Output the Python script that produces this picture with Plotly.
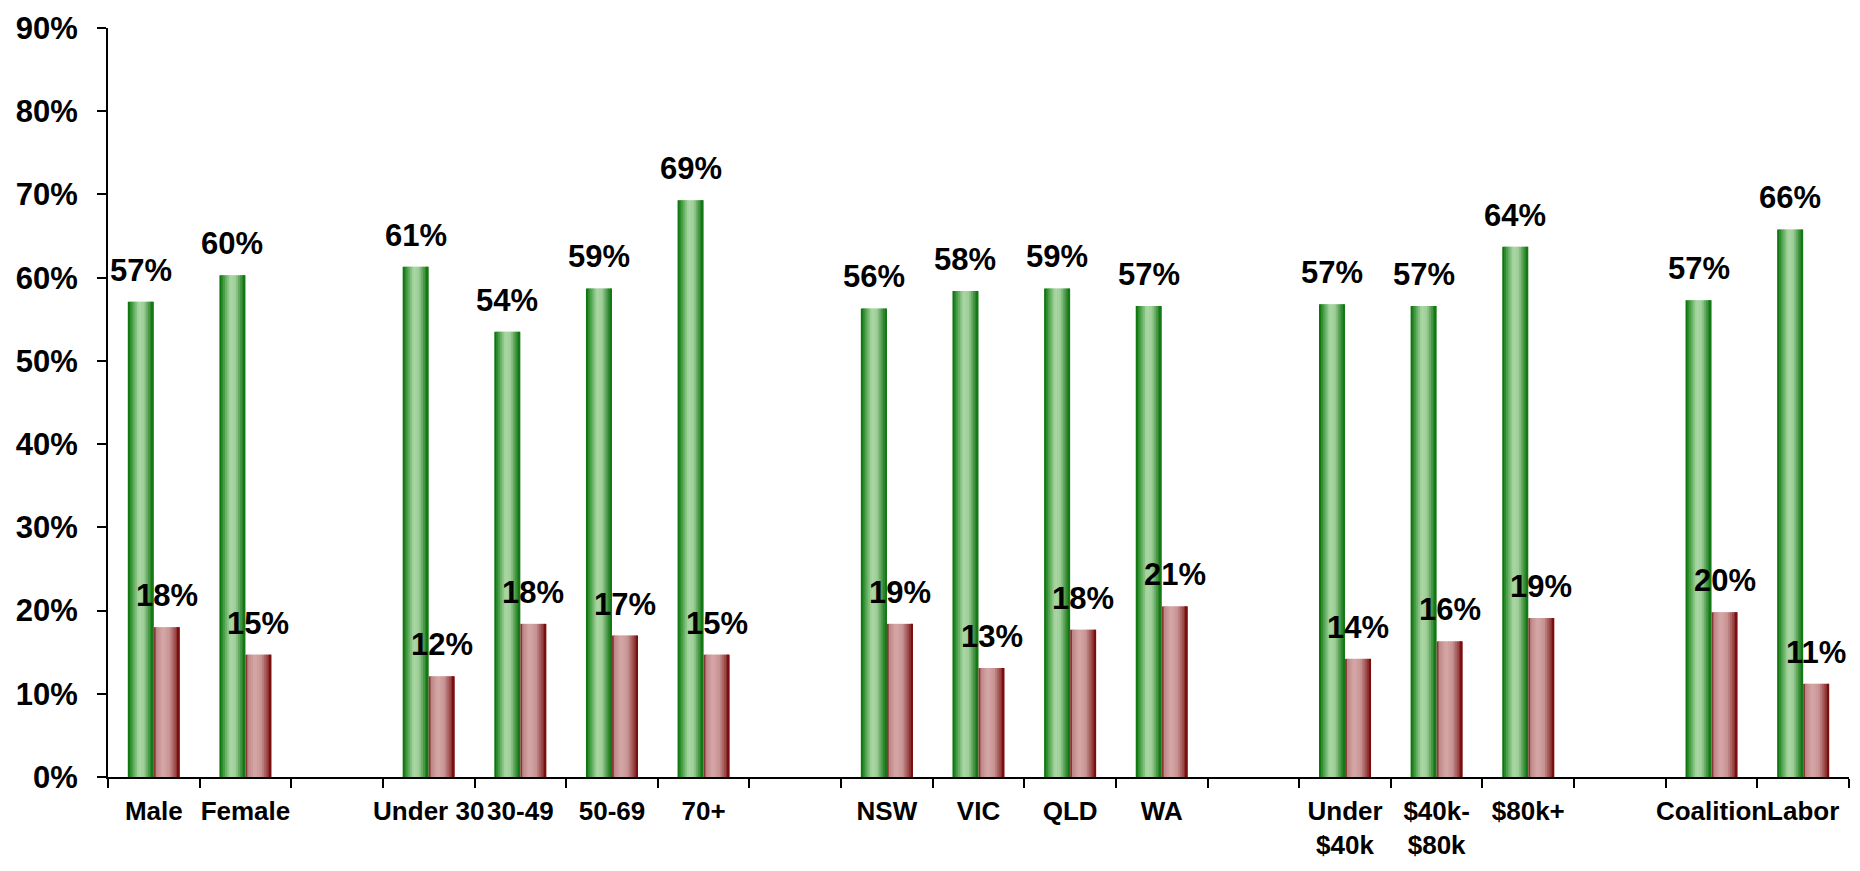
import plotly.graph_objects as go

categories = ["Male", "Female", " ",
              "Under 30", "30-49", "50-69", "70+", "  ",
              "NSW", "VIC", "QLD", "WA", "   ",
              "Under<br>$40k", "$40k-<br>$80k", "$80k+", "    ",
              "Coalition", "Labor"]

green_values = [57.1, 60.3, None,
                61.3, 53.5, 58.7, 69.3, None,
                56.3, 58.4, 58.7, 56.6, None,
                56.8, 56.6, 63.7, None,
                57.3, 65.8]
green_labels = ["57%", "60%", None,
                "61%", "54%", "59%", "69%", None,
                "56%", "58%", "59%", "57%", None,
                "57%", "57%", "64%", None,
                "57%", "66%"]

red_values = [18.0, 14.7, None,
              12.1, 18.4, 17.0, 14.7, None,
              18.4, 13.1, 17.7, 20.5, None,
              14.2, 16.3, 19.1, None,
              19.8, 11.2]
red_labels = ["18%", "15%", None,
              "12%", "18%", "17%", "15%", None,
              "19%", "13%", "18%", "21%", None,
              "14%", "16%", "19%", None,
              "20%", "11%"]

y_ticks = [0, 10, 20, 30, 40, 50, 60, 70, 80, 90]
y_tick_labels = ["0%", "10%", "20%", "30%", "40%", "50%", "60%", "70%", "80%", "90%"]

FONT = "Liberation Sans, Arial, sans-serif"
BAR_W = 0.284
N_STRIPS = 14

green_stops = [(0.0, (0, 105, 0)), (0.12, (50, 145, 50)), (0.42, (172, 216, 166)),
               (0.62, (158, 206, 152)), (0.88, (45, 135, 45)), (1.0, (10, 115, 10))]
red_stops = [(0.0, (105, 10, 10)), (0.1, (190, 135, 135)), (0.35, (215, 168, 168)),
             (0.6, (200, 148, 148)), (0.85, (150, 65, 65)), (1.0, (115, 0, 0))]


def interp(stops, t):
    for (t0, c0), (t1, c1) in zip(stops[:-1], stops[1:]):
        if t0 <= t <= t1:
            f = (t - t0) / (t1 - t0) if t1 > t0 else 0
            c = [round(a + (b - a) * f) for a, b in zip(c0, c1)]
            return "rgb(%d,%d,%d)" % tuple(c)
    return "rgb(%d,%d,%d)" % stops[-1][1]


fig = go.Figure()
step = BAR_W / N_STRIPS


def add_gradient_bar(values, start, stops):
    for k in range(N_STRIPS):
        t = (k + 0.5) / N_STRIPS
        w = step * 1.6 if k < N_STRIPS - 1 else step
        fig.add_trace(go.Bar(
            x=categories, y=values,
            offset=start + k * step, width=w,
            marker=dict(color=interp(stops, t), line=dict(width=0)),
            hoverinfo="skip", showlegend=False,
        ))


add_gradient_bar(green_values, -BAR_W, green_stops)
add_gradient_bar(red_values, 0.0, red_stops)

label_font = dict(family=FONT, size=31, color="black", weight="bold")
annotations = []
for i, (gv, gl, rv, rl) in enumerate(zip(green_values, green_labels, red_values, red_labels)):
    if gv is not None:
        annotations.append(dict(x=i - BAR_W / 2, y=gv, xref="x", yref="y", text=gl,
                                showarrow=False, yanchor="bottom", yshift=12, font=label_font))
    if rv is not None:
        annotations.append(dict(x=i + BAR_W / 2, y=rv, xref="x", yref="y", text=rl,
                                showarrow=False, yanchor="bottom", yshift=12, font=label_font))

fig.update_layout(
    width=1860, height=871,
    margin=dict(l=108, r=11, t=20, b=83),
    barmode="overlay",
    plot_bgcolor="white", paper_bgcolor="white",
    annotations=annotations,
    showlegend=False,
)
fig.update_xaxes(
    type="category", range=[-0.5, len(categories) - 0.5],
    showline=True, linecolor="black", linewidth=2,
    ticks="outside", ticklen=9, tickwidth=2, tickcolor="black",
    tickson="boundaries", tickangle=0, showgrid=False, zeroline=False,
    tickfont=dict(family=FONT, size=26, color="black", weight="bold"),
    ticklabelstandoff=10,
)
fig.update_yaxes(
    range=[0, 90], tickvals=y_ticks, ticktext=y_tick_labels,
    showline=True, linecolor="black", linewidth=2,
    ticks="outside", ticklen=9, tickwidth=2, tickcolor="black",
    showgrid=False, zeroline=False,
    tickfont=dict(family=FONT, size=31, color="black", weight="bold"),
    ticklabelstandoff=13,
)

fig.write_html("out.html", config={"displayModeBar": False},
               post_script="document.body.style.margin='0';")
